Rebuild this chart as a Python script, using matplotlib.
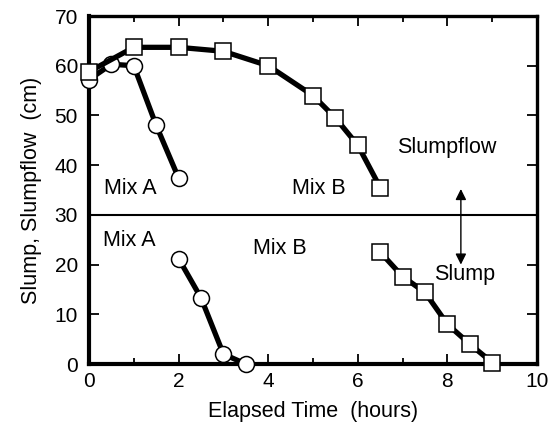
import matplotlib
matplotlib.use("Agg")
import matplotlib.pyplot as plt
from matplotlib.ticker import MultipleLocator

plt.rcParams['font.family'] = ['Liberation Sans', 'DejaVu Sans']

# Data (hours, cm)
mixA_flow_t = [0, 0.5, 1.0, 1.5, 2.0]
mixA_flow_v = [57.2, 60.3, 60.0, 48.0, 37.4]
mixB_flow_t = [0, 1, 2, 3, 4, 5, 5.5, 6, 6.5]
mixB_flow_v = [58.8, 63.7, 63.7, 62.9, 60.0, 54.0, 49.5, 44.0, 35.5]
mixA_slump_t = [2.0, 2.5, 3.0, 3.5]
mixA_slump_v = [21.2, 13.3, 2.0, 0.0]
mixB_slump_t = [6.5, 7.0, 7.5, 8.0, 8.5, 9.0]
mixB_slump_v = [22.5, 17.6, 14.4, 8.0, 4.0, 0.3]

fig = plt.figure(figsize=(5.48, 4.29), dpi=100)
ax = fig.add_axes([0.1624, 0.1515, 0.8176, 0.8112])

lw = 3.8
common = dict(color='black', lw=lw, markerfacecolor='white', markeredgecolor='black',
              markeredgewidth=1.1, clip_on=False, zorder=3)
ax.plot(mixA_flow_t, mixA_flow_v, marker='o', markersize=11.5, **common)
ax.plot(mixB_flow_t, mixB_flow_v, marker='s', markersize=11, **common)
ax.plot(mixA_slump_t, mixA_slump_v, marker='o', markersize=11.5, **common)
ax.plot(mixB_slump_t, mixB_slump_v, marker='s', markersize=11, **common)

ax.axhline(30, color='black', lw=1.5, zorder=2)

ax.annotate('', xy=(8.3, 35.2), xytext=(8.3, 20.0),
            arrowprops=dict(arrowstyle='<|-|>', color='black', lw=1.0,
                            mutation_scale=16, shrinkA=0, shrinkB=0))

fs = 15.5
tfs = 15
ax.text(0.33, 35.4, 'Mix A', fontsize=fs, va='center', ha='left')
ax.text(4.53, 35.4, 'Mix B', fontsize=fs, va='center', ha='left')
ax.text(6.88, 43.6, 'Slumpflow', fontsize=fs, va='center', ha='left')
ax.text(0.32, 24.8, 'Mix A', fontsize=fs, va='center', ha='left')
ax.text(3.65, 23.3, 'Mix B', fontsize=fs, va='center', ha='left')
ax.text(7.7, 18.1, 'Slump', fontsize=fs, va='center', ha='left')

ax.set_xlim(0, 10)
ax.set_ylim(0, 70)
ax.xaxis.set_major_locator(MultipleLocator(2))
ax.xaxis.set_minor_locator(MultipleLocator(1))
ax.yaxis.set_major_locator(MultipleLocator(10))

ax.tick_params(axis='both', which='both', direction='in', top=True, right=True,
               labelsize=tfs, width=1.3, colors='black')
ax.tick_params(axis='x', which='major', length=7, pad=6)
ax.tick_params(axis='x', which='minor', length=4)
ax.tick_params(axis='y', which='major', length=7, pad=8)

for side in ['left', 'bottom']:
    ax.spines[side].set_linewidth(3.0)
for side in ['right', 'top']:
    ax.spines[side].set_linewidth(2.4)

ax.set_xlabel('Elapsed Time  (hours)', fontsize=fs, labelpad=7)
ax.set_ylabel('Slump, Slumpflow  (cm)', fontsize=fs, labelpad=9)

fig.savefig('out.png', dpi=100)
